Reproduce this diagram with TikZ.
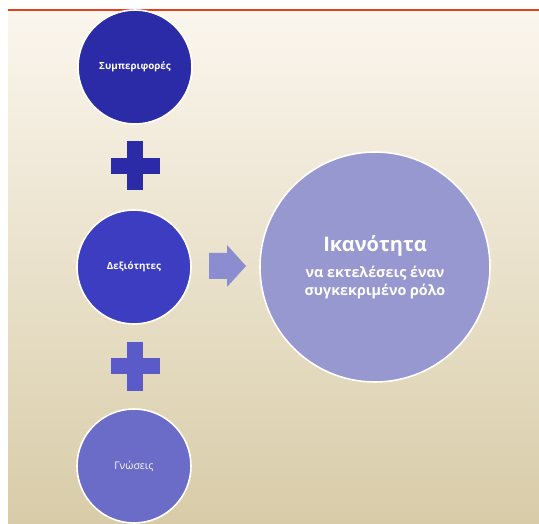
\documentclass[tikz,border=0pt]{standalone}
\usepackage{fontspec}
\setmainfont{Open Sans}
\usetikzlibrary{positioning}
\definecolor{bgtop}{HTML}{FBF6EE}
\definecolor{bgbot}{HTML}{D8CCA8}
\definecolor{redline}{HTML}{E8401C}
\definecolor{behav}{HTML}{2B2BA8}
\definecolor{skill}{HTML}{3D3DC2}
\definecolor{knowl}{HTML}{6B6BC8}
\definecolor{able}{HTML}{9898D1}
\definecolor{plusb}{HTML}{5A5AC8}
\definecolor{arrowc}{HTML}{8C8CD0}
\tikzset{
 ball/.style={circle,draw=white,line width=1.6pt,minimum size=114pt,inner sep=0pt,
   text=white,font=\fontsize{9.8}{11}\selectfont\bfseries},
 bigball/.style={circle,draw=white,line width=1.6pt,minimum size=230pt,inner sep=0pt,
   text=white,fill=able,align=center},
}
\newcommand{\plussign}[2]{%
  \fill[#2] (#1) ++(-24.5,-8) rectangle ++(49,16);
  \fill[#2] (#1) ++(-8,-24.5) rectangle ++(16,49);}

\begin{document}
\begin{tikzpicture}[x=1pt,y=-1pt]
        \useasboundingbox (0,0) rectangle (539,524);
        \shade[top color=bgtop,bottom color=bgbot] (8,11) rectangle (539,524);
        \draw[redline,line width=2.4pt] (8,10) -- (539,10);

        \node[ball,fill=behav] (behav) at (135,67) {Συμπεριφορές};
        \node[ball,fill=skill] (skill) at (134,267) {Δεξιότητες};
        \node[ball,fill=knowl,font=\fontsize{10.5}{12}\selectfont] (knowl) at (134,466) {Γνώσεις};

        \coordinate (plusa) at (135,166);
        \coordinate (plusb) at (135,366);
        \plussign{plusa}{behav}
        \plussign{plusb}{plusb}

        % arrow towards the big circle
        \coordinate (arr) at (209,266);
        \fill[arrowc] (arr) ++(0,-13) -- ++(18,0) -- ++(0,-8) -- ++(19,21)
          -- ++(-19,21) -- ++(0,-8) -- ++(-18,0) -- cycle;

        \node[bigball] (able) at (375,267) {};
        \node[text=white,font=\fontsize{20}{24}\selectfont\bfseries] (title) at (375,246) {Ικανότητα};
        \node[text=white,align=center,font=\fontsize{14.3}{18}\selectfont\bfseries,
          below=3pt of title] (role)
          {να εκτελέσεις έναν\\συγκεκριμένο ρόλο};
\end{tikzpicture}
\end{document}
